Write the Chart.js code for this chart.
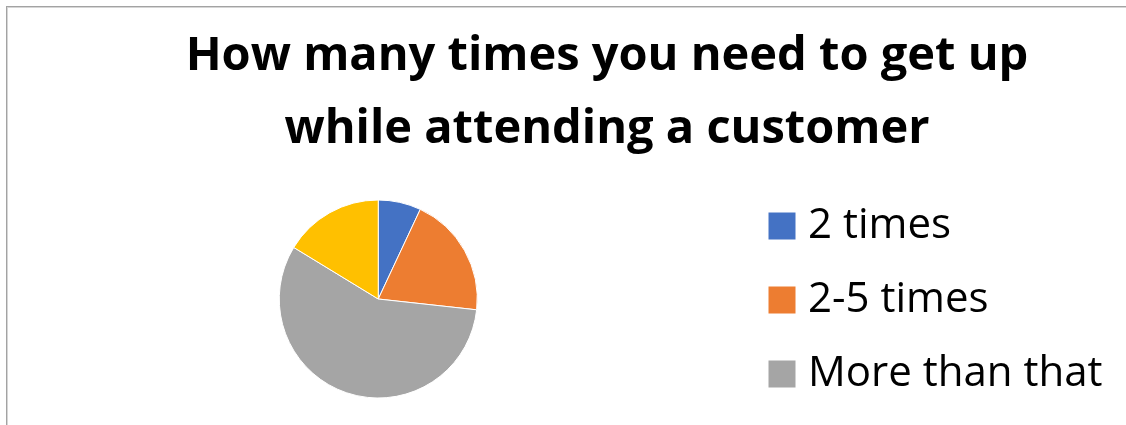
<!DOCTYPE html>
<html>
<head>
<meta charset="utf-8">
<script src="https://cdn.jsdelivr.net/npm/chart.js@4.4.1/dist/chart.umd.min.js"></script>
<style>
  html, body { margin: 0; padding: 0; background: #ffffff; overflow: hidden; width: 1126px; height: 425px; }
  #frame { position: absolute; left: 6px; top: 6px; width: 1202px; height: 600px;
           border: 1px solid #a3a3a3; box-shadow: inset 1px 1px 0 #d6d6d6; box-sizing: border-box; }
  #c { position: absolute; left: 0; top: 0; }
</style>
</head>
<body>
<div id="frame"></div>
<canvas id="c" width="1214" height="501"></canvas>
<script>
// ---- data ----
const titleLines = ['How many times you need to get up', 'while attending a customer'];
const categories = ['2 times', '2-5 times', 'More than that', 'Never'];
const responses = [6, 17, 49, 14];
const sliceColors = ['#4472C4', '#ED7D31', '#A5A5A5', '#FFC000'];

// ---- layout spacers (keep the Excel-like frame proportions) ----
const RIGHT_BLOCK = 457.5;   // legend + empty space to the right of it
const BOTTOM_GAP = 68.8;     // empty space under the plot area

const frameSpacer = {
  id: 'frameSpacer',
  beforeInit(chart) {
    const right = {
      position: 'right', weight: 3000, fullSize: false, options: { display: false },
      top: 0, left: 0, right: 0, bottom: 0, width: 0, height: 0,
      isHorizontal() { return false; },
      update(maxW, maxH) {
        const lw = chart.legend ? chart.legend.width : 0;
        this.width = Math.max(0, RIGHT_BLOCK - lw);
        this.height = maxH;
      },
      draw() {}
    };
    const bottom = {
      position: 'bottom', weight: 3000, fullSize: false, options: { display: false },
      top: 0, left: 0, right: 0, bottom: 0, width: 0, height: 0,
      isHorizontal() { return true; },
      update(maxW, maxH) { this.width = maxW; this.height = BOTTOM_GAP; },
      draw() {}
    };
    Chart.layouts.addBox(chart, right);
    Chart.layouts.addBox(chart, bottom);
  }
};

new Chart(document.getElementById('c'), {
  type: 'pie',
  data: {
    labels: categories,
    datasets: [{
      data: responses,
      backgroundColor: sliceColors,
      borderColor: '#ffffff',
      borderWidth: 1
    }]
  },
  plugins: [frameSpacer],
  options: {
    responsive: false,
    animation: false,
    radius: 99,
    layout: { padding: { left: 11.5, right: 11.5, top: 0, bottom: 0 } },
    plugins: {
      tooltip: { enabled: false },
      title: {
        display: true,
        text: titleLines,
        color: '#000000',
        font: { family: '"Open Sans", sans-serif', weight: 'bold', size: 47, lineHeight: '73px' },
        padding: { top: 19.8, bottom: 0 }
      },
      legend: {
        display: true,
        position: 'right',
        align: 'end',
        labels: {
          color: '#000000',
          font: { family: '"Open Sans", sans-serif', size: 42 },
          usePointStyle: true,
          pointStyle: 'rect',
          boxWidth: 10,
          boxHeight: 28,
          padding: 32
        }
      }
    }
  }
});
</script>
</body>
</html>
